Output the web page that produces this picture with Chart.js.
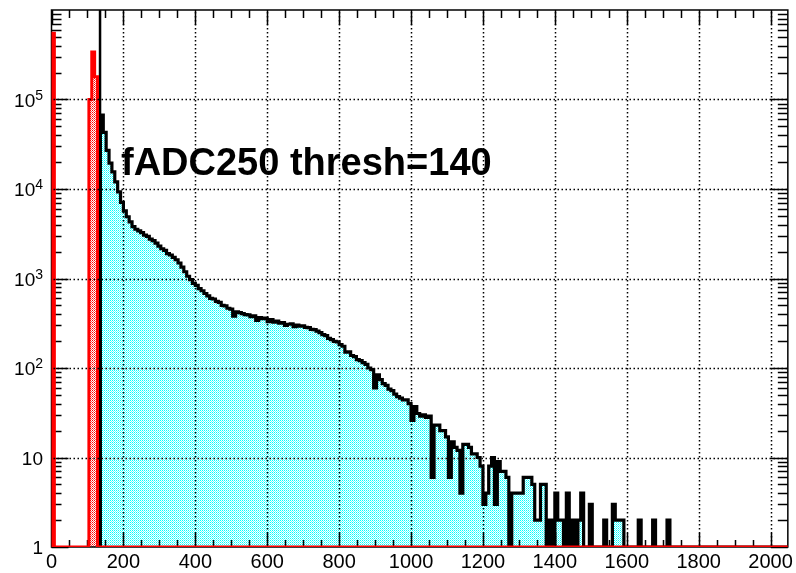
<!DOCTYPE html>
<html><head><meta charset="utf-8">
<script src="https://cdn.jsdelivr.net/npm/chart.js@4/dist/chart.umd.min.js"></script>
<style>html,body{margin:0;padding:0;background:#fff;}#wrap{width:796px;height:573px;position:relative;}</style>
</head><body><div id="wrap"><canvas id="c"></canvas></div>
<script>
// ---------- data ----------
const binWidth = 8;
const rawStart = 0;
const rawCounts = [550000,0,0,0,0,0,0,0,0,0,0,0,0,100000,340000,180000,0];
const threshStart = 136;
const threshCounts = [
  67000,43000,27000,19500,15500,12000,9300,7100,5700,4900,
  4300,3800,3550,3400,3250,3050,2950,2750,2650,2480,
  2300,2150,2060,1900,1830,1720,1620,1490,1340,1190,
  1060,970,880,840,770,730,680,640,600,590,
  555,540,500,495,465,455,380,425,415,405,
  395,392,375,382,340,365,355,362,330,348,
  325,335,318,322,300,308,312,290,302,294,
  296,284,282,270,268,258,248,236,230,214,
  208,198,196,182,175,150,152,138,134,124,
  121,115,110,100,96,60,84,74,67,64,
  58,56,51,48,46,44,44,40,26,37,
  31,29,30,28,29,6,23,23,20,20,
  17,6,15,13,12,4,14,14,13,11,
  11,10,8,3,4,8,10,3,9,7,
  7,6,0,4,4,4,4,6,6,6,
  5,2,2,5,5,1,2,0,4,2,
  2,0,4,1,2,0,2,4,0,0,
  3,0,0,0,1,2,0,1,3,2,
  2,2,0,0,0,0,0,2,0,1,
  0,0,2,0,0,0,0,2,0,0
];
const thresholdMarker = 135;
const xRange = [0, 2048];
const yRange = [1, 1e6];
const xTickValues = [0,200,400,600,800,1000,1200,1400,1600,1800,2000];
const yTickValues = [1,10,100,1000,10000,100000];
const yTickBase = ['1','10','10','10','10','10'];
const yTickExp  = ['','','2','3','4','5'];
const titleText = 'fADC250 thresh=140';

// ---------- helpers ----------
const FONT = '"Liberation Sans", Arial, Helvetica, sans-serif';
// empty bins are drawn on the axis floor, as ROOT does on a log scale
const floorY = c => (c > yRange[0] ? c : yRange[0]);
function histPoints(start, counts, endX) {
  const pts = [{x: start, y: yRange[0]}];
  counts.forEach((c, i) => pts.push({x: start + i * binWidth, y: floorY(c)}));
  pts.push({x: start + counts.length * binWidth, y: yRange[0]});
  if (endX !== undefined) pts.push({x: endX, y: yRange[0]});
  return pts;
}
function makePattern(c1, c2, c3) {
  const cv = document.createElement('canvas');
  cv.width = 2; cv.height = 2;
  const g = cv.getContext('2d');
  g.fillStyle = c2; g.fillRect(0, 0, 2, 2);
  g.fillStyle = c1; g.fillRect(0, 0, 1, 1);
  g.fillStyle = c3; g.fillRect(1, 1, 1, 1);
  return g.createPattern(cv, 'repeat');
}
const cyanFill = makePattern('#00ffff', '#ffffff', '#70ffff');
const redFill = makePattern('#ff0000', '#ffffff', '#ff6060');

function dotsH(ctx, x0, x1, y) {
  for (let px = x0; px < x1; px += 4) ctx.fillRect(px, y - 0.75, 1.5, 1.5);
}
function dotsV(ctx, y0, y1, x) {
  for (let py = y0; py < y1; py += 4) ctx.fillRect(x - 0.75, py, 1.5, 1.5);
}

const decor = {
  id: 'rootDecor',
  beforeDatasetDraw(chart, args) {
    if (args.index !== 0) return;
    const {ctx, chartArea: a, scales: {x, y}} = chart;
    ctx.save();
    ctx.strokeStyle = '#000';
    ctx.lineWidth = 1.5;
    ctx.strokeRect(a.left, a.top, a.right - a.left, a.bottom - a.top);
    ctx.beginPath();
    for (let v = xRange[0]; v <= xRange[1]; v += 50) {
      const px = Math.round(x.getPixelForValue(v)) + 0.5;
      const major = v % 200 === 0;
      const lb = major ? 14 : 7, lt = major ? 15 : 8;
      ctx.moveTo(px, a.bottom); ctx.lineTo(px, a.bottom - lb);
      ctx.moveTo(px, a.top); ctx.lineTo(px, a.top + lt);
    }
    for (let d = yRange[0]; d < yRange[1]; d *= 10) {
      for (let m = 1; m <= 9; m++) {
        const v = m * d;
        const py = Math.round(y.getPixelForValue(v)) + 0.5;
        const len = m === 1 ? 17 : 10;
        ctx.moveTo(a.left, py); ctx.lineTo(a.left + len, py);
        ctx.moveTo(a.right, py); ctx.lineTo(a.right - len, py);
      }
    }
    ctx.stroke();
    ctx.restore();
  },
  afterDatasetsDraw(chart) {
    // dotted grid at the labelled ticks, on top of the fills
    const {ctx, chartArea: a, scales: {x, y}} = chart;
    ctx.save();
    ctx.fillStyle = '#000';
    xTickValues.forEach(v => {
      if (v === xRange[0]) return;
      dotsV(ctx, a.top + 2, a.bottom - 1, Math.round(x.getPixelForValue(v)) + 0.5);
    });
    yTickValues.forEach(v => {
      if (v === yRange[0]) return;
      dotsH(ctx, a.left + 2, a.right - 1, Math.round(y.getPixelForValue(v)) + 0.5);
    });
    ctx.restore();
  },
  afterDraw(chart) {
    const {ctx, chartArea: a, scales: {y}} = chart;
    ctx.save();
    ctx.fillStyle = '#000';
    ctx.textBaseline = 'alphabetic';
    const rightEdge = a.left - 8.5;
    yTickValues.forEach((v, i) => {
      const py = y.getPixelForValue(v);
      ctx.font = '14px ' + FONT;
      const ew = yTickExp[i] ? ctx.measureText(yTickExp[i]).width : 0;
      if (yTickExp[i]) {
        ctx.textAlign = 'right';
        ctx.fillText(yTickExp[i], rightEdge, py);
      }
      ctx.font = '19px ' + FONT;
      ctx.textAlign = 'right';
      ctx.fillText(yTickBase[i], rightEdge - ew, py + 7);
    });
    ctx.font = 'bold 38px ' + FONT;
    ctx.textAlign = 'left';
    ctx.fillText(titleText, 121, 175);
    ctx.restore();
  }
};

new Chart(document.getElementById('c'), {
  type: 'line',
  data: {
    datasets: [
      { label: 'raw', data: histPoints(rawStart, rawCounts, xRange[1]), stepped: true,
        borderColor: '#ff0000', borderWidth: 3, backgroundColor: redFill, fill: 'start',
        pointRadius: 0, tension: 0 },
      { label: 'threshold', data: [{x: thresholdMarker, y: yRange[0]}, {x: thresholdMarker, y: yRange[1]}],
        borderColor: '#000', borderWidth: 2.5, fill: false, pointRadius: 0 },
      { label: 'above threshold', data: histPoints(threshStart, threshCounts, xRange[1]), stepped: true,
        borderColor: '#000', borderWidth: 3.2, backgroundColor: cyanFill, fill: 'start',
        pointRadius: 0, tension: 0 }
    ]
  },
  options: {
    responsive: true, maintainAspectRatio: false, animation: false,
    layout: { padding: { left: 0, right: 7.5, top: 10, bottom: 0 } },
    plugins: { legend: { display: false }, tooltip: { enabled: false } },
    scales: {
      x: {
        type: 'linear', min: xRange[0], max: xRange[1],
        afterBuildTicks: s => { s.ticks = xTickValues.map(v => ({value: v})); },
        afterFit: s => { s.height = 26; },
        ticks: { color: '#000', font: { family: FONT, size: 20 }, padding: 3, maxRotation: 0, autoSkip: false,
                 callback: v => String(v) },
        grid: { display: false, drawTicks: false },
        border: { display: false }
      },
      y: {
        type: 'logarithmic', min: yRange[0], max: yRange[1],
        afterBuildTicks: s => { s.ticks = yTickValues.map(v => ({value: v})); },
        afterFit: s => { s.width = 51.5; },
        ticks: { display: false },
        grid: { display: false, drawTicks: false },
        border: { display: false }
      }
    }
  },
  plugins: [decor]
});
</script></body></html>
